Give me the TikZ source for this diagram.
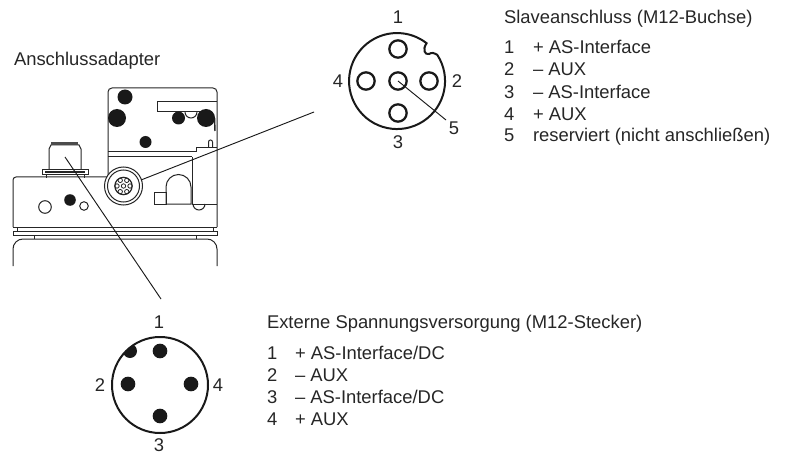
\documentclass[tikz,border=0pt]{standalone}
\usepackage{fontspec}
\setmainfont{Liberation Sans}
\usetikzlibrary{calc}
\tikzset{
  lbl/.style={inner sep=0pt,outer sep=0pt,anchor=base west,font=\fontsize{13.8}{16}\selectfont,text=black!85},
  num/.style={inner sep=0pt,outer sep=0pt,font=\fontsize{13.8}{16}\selectfont,text=black!85},
  ring/.style={line width=1.5pt,draw=black!90},
  pinring/.style={circle,minimum size=13pt,inner sep=0pt,line width=1.7pt,draw=black!90},
  pinfull/.style={circle,minimum size=11pt,inner sep=0pt,fill=black!90,draw=none},
  dev/.style={line width=0.75pt,draw=black!85},
  leader/.style={line width=0.7pt,draw=black!90},
  blob/.style={fill=black!90,draw=none},
}
\begin{document}
\begin{tikzpicture}[x=0.75pt,y=-0.75pt]
\useasboundingbox (0,0) rectangle (787,452);
% upper body
\draw[dev] (108,177) -- (108,92) arc[start angle=180,end angle=270,radius=4] -- (213,88) arc[start angle=270,end angle=360,radius=4] -- (217,227);
\draw[dev] (108,157) -- (192,157);
\draw[dev] (108,152) -- (196,152) -- (196,148) -- (217,148);
\draw[dev] (217,102) -- (157,102) -- (157,112) -- (200,112);
\draw[dev] (192,157) -- (192,204) -- (217,204);
\draw[dev] (208.5,148) -- (208.5,142) arc[start angle=180,end angle=360,radius=2] -- (212.5,148);
\draw[dev] (185,112) arc[start angle=180,end angle=0,radius=6];
\draw[dev,line width=1.1pt] (214.5,118) -- (215,131);
\fill[blob] (125,97) circle[radius=7.5];
\fill[blob] (117,118) circle[radius=9];
\fill[blob] (178.5,118) circle[radius=6.5];
\fill[blob] (206,118) circle[radius=9];
\fill[blob] (145.5,142) circle[radius=6];
% lower body
\draw[dev] (108,177) -- (16,177) arc[start angle=270,end angle=180,radius=3] -- (13,227);
\draw[dev] (13,227) -- (217,227);
\draw[dev] (17,227) -- (17,231) (213,227) -- (213,231);
\draw[dev] (13,231) rectangle (217,235);
\draw[dev] (13,266) -- (13,249) arc[start angle=180,end angle=270,radius=10] -- (207,239) arc[start angle=270,end angle=360,radius=10] -- (217,266);
\draw[dev] (34,235) -- (34,239) (196,235) -- (196,239);
\draw[dev] (45,207) circle[radius=6.3];
\draw[dev] (84,206) circle[radius=4.3];
\fill[blob] (70,200) circle[radius=5.8];
% plug
\draw[dev] (49,170) -- (49,149) -- (51,145) -- (79,145) -- (81,149) -- (81,170);
\fill[black!70] (51,142) rectangle (78,145);
\draw[dev] (42,170) rectangle (88,175);
\draw[dev] (46,175) -- (46,178) (84,175) -- (84,178);
\draw[dev,line width=1.2pt] (45,172) -- (85,172);
% housing next to the socket
\draw[dev] (166,204) -- (166,187) arc[start angle=180,end angle=360,radius=12.5] -- (191,204) -- cycle;
\draw[dev] (154,192) rectangle (166,204);
\draw[dev] (193,204) arc[start angle=180,end angle=0,radius=6];
% socket
\fill[white] (123.5,186) circle[radius=19];
\draw[dev] (123.5,186) circle[radius=19];
\node[circle,minimum size=13pt,inner sep=0pt,draw=black!85,line width=0.9pt] (sock) at (123.5,186) {};
\draw[dev] (sock.center) circle[radius=16];
\foreach \a in {0,60,...,300}{\draw[line width=0.6pt,draw=black!85] ($(sock.center)+(\a:6.5)$) circle[radius=2.2];}
\draw[line width=0.6pt,draw=black!85] (sock.center) circle[radius=2.2];
% upper connector
\draw[ring] (437.3,54.9) arc[start angle=-33,end angle=308,radius=48] .. controls (422,50) and (425,55) .. (429,54) .. controls (432,52) and (434,53) .. (437.3,54.9);
\node[pinring] (p1) at (398,49) {};
\node[pinring] (p4) at (366,81) {};
\node[pinring] (p5) at (398,81) {};
\node[pinring] (p2) at (429,81) {};
\node[pinring] (p3) at (398,113) {};
\node[num] (n1) at (398,17) {1};
\node[num] (n2) at (457,81) {2};
\node[num] (n3) at (398,142) {3};
\node[num] (n4) at (338,81) {4};
\node[num] (n5) at (454,128) {5};
\coordinate (l5) at (446,120);
\draw[leader] (p5.center) -- (l5);
% lower connector
\begin{scope}
\clip (160,385) circle[radius=48];
\fill[blob] (130,351) circle[radius=7];
\end{scope}
\draw[ring] (160,385) circle[radius=48];
\node[pinfull] (q1) at (160,351) {};
\node[pinfull] (q2) at (128,384) {};
\node[pinfull] (q4) at (191,384) {};
\node[pinfull] (q3) at (160,416) {};
\node[num] (m1) at (159,322) {1};
\node[num] (m2) at (100,385) {2};
\node[num] (m3) at (159,445.5) {3};
\node[num] (m4) at (218,385) {4};
% leaders
\coordinate (a0) at (141,180);
\coordinate (a1) at (314,112);
\draw[leader] (a0) -- (a1);
\coordinate (a2) at (65,157);
\coordinate (a3) at (161,299);
\draw[leader] (a2) -- (a3);
% texts
\node[lbl] (t0) at (14,66) {Anschlussadapter};
\node[lbl] (t1) at (504,24) {Slaveanschluss (M12-Buchse)};
\foreach \y/\n/\s in {54/1/{+ AS-Interface},76/2/{– AUX},99/3/{– AS-Interface},121/4/{+ AUX},142/5/{reserviert (nicht anschließen)}}{
  \node[lbl] at (504,\y) {\n};
  \node[lbl] at (533,\y) {\s};
}
\node[lbl] (t2) at (267,328) {Externe Spannungsversorgung (M12-Stecker)};
\node[lbl] at (267,359) {1};
\node[lbl] at (295,359) {+ AS-Interface/DC};
\node[lbl] at (267,381) {2};
\node[lbl] at (295,381) {– AUX};
\node[lbl] at (267,403) {3};
\node[lbl] at (295,403) {– AS-Interface/DC};
\node[lbl] at (267,425) {4};
\node[lbl] at (295,425) {+ AUX};
\end{tikzpicture}
\end{document}
